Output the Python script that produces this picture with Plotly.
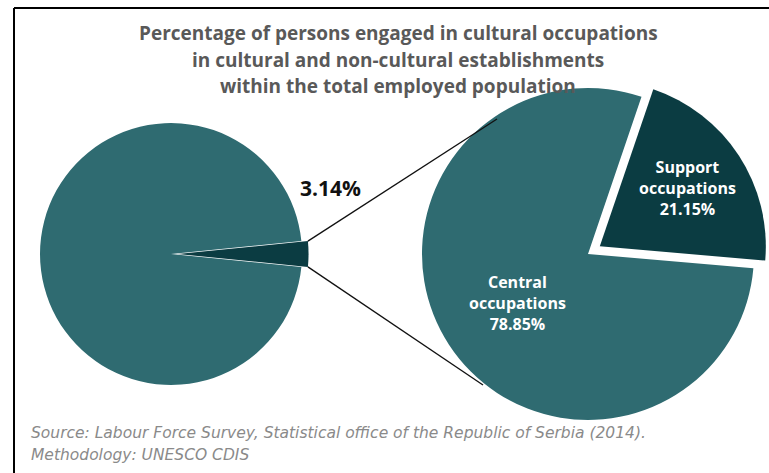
import math
import plotly.graph_objects as go

W, H = 769, 473

# Share of cultural occupations within total employment
total_labels = ["Cultural occupations", "Other occupations"]
total_values = [3.14, 96.86]

# Breakdown of cultural occupations
detail_labels = ["Support<br>occupations", "Central<br>occupations"]
detail_values = [21.15, 78.85]

TEAL = "#2f6b71"
DARK = "#0b3c42"

title_lines = [
    "Percentage of persons engaged in cultural occupations",
    "in cultural and non-cultural establishments",
    "within the total employed population",
]
source_lines = [
    "Source: Labour Force Survey, Statistical office of the Republic of Serbia (2014).",
    "Methodology: UNESCO CDIS",
]

# pie geometry in pixels (y measured from the top)
L_CX, L_CY, L_R, L_PULL = 171, 254, 131, 0.05
R_CX, R_CY, R_R, R_PULL = 588, 254, 166, 0.085


def px(x):
    return x / W


def py(y):
    return 1 - y / H


def domain(cx, cy, r, pull):
    # square box of side 2*r*(1+pull) fixes the radius; widen the other
    # direction only as far as the page allows, keeping the box centred
    half = r * (1 + pull)
    hx = min(half, cx, W - cx)
    hy = min(half + 10, cy, H - cy)
    if hx < half:
        hy = max(hy, half + 5)
        hy = min(hy, cy, H - cy)
    return dict(x=[px(cx - hx), px(cx + hx)],
                y=[py(cy + hy), py(cy - hy)])


left_rot = 90 - total_values[0] * 3.6 / 2
right_rot = 18.8

fig = go.Figure()
fig.add_trace(go.Pie(
    labels=total_labels, values=total_values, sort=False,
    direction="clockwise", rotation=left_rot,
    pull=[L_PULL, 0], marker=dict(colors=[DARK, TEAL], line=dict(width=0)),
    textinfo="none", hoverinfo="skip", showlegend=False,
    domain=domain(L_CX, L_CY, L_R, L_PULL),
))
fig.add_trace(go.Pie(
    labels=detail_labels, values=detail_values, sort=False,
    direction="clockwise", rotation=right_rot,
    pull=[R_PULL, 0], marker=dict(colors=[DARK, TEAL], line=dict(width=0)),
    textinfo="none", hoverinfo="skip", showlegend=False,
    domain=domain(R_CX, R_CY, R_R, R_PULL),
))

# connector lines from the small slice to the detail pie
half_ang = total_values[0] * 3.6 / 2
corners = []
for a in (90 - half_ang, 90 + half_ang):
    t = math.radians(a)
    corners.append((L_CX + L_PULL * L_R + L_R * math.sin(t), L_CY - L_R * math.cos(t)))
ends = [(497, 119), (483, 385)]

shapes = []
for (x0, y0), (x1, y1) in zip(corners, ends):
    shapes.append(dict(type="line", xref="paper", yref="paper",
                       x0=px(x0), y0=py(y0), x1=px(x1), y1=py(y1),
                       line=dict(color="#111111", width=1.3), layer="above"))
# frame lines along top and left
shapes.append(dict(type="line", xref="paper", yref="paper",
                   x0=px(14), y0=py(8), x1=1, y1=py(8),
                   line=dict(color="#000000", width=2)))
shapes.append(dict(type="line", xref="paper", yref="paper",
                   x0=px(14), y0=py(8), x1=px(14), y1=0,
                   line=dict(color="#000000", width=2)))

FONT = "Open Sans"
annotations = []
for line, ty in zip(title_lines, (33, 60, 86)):
    annotations.append(dict(
        text=line, x=px(398), y=py(ty), xref="paper", yref="paper",
        showarrow=False, xanchor="center", yanchor="middle",
        font=dict(family=FONT, size=19, color="#595959", weight="bold"),
    ))
annotations.append(dict(
    text=f"{total_values[0]:.2f}%", x=px(330), y=py(188), xref="paper", yref="paper",
    showarrow=False, xanchor="center", yanchor="middle",
    font=dict(family=FONT, size=21, color="#111111", weight="bold"),
))
label_pos = [(687, 188), (517, 303)]
for lab, val, (lx, ly) in zip(detail_labels, detail_values, label_pos):
    annotations.append(dict(
        text=f"{lab}<br>{val:.2f}%", x=px(lx), y=py(ly), xref="paper", yref="paper",
        showarrow=False, xanchor="center", yanchor="middle", align="center",
        font=dict(family=FONT, size=16, color="#ffffff", weight="bold"),
    ))
for line, sy in zip(source_lines, (433, 455)):
    annotations.append(dict(
        text=f"<i>{line}</i>", x=px(29), y=py(sy),
        xref="paper", yref="paper", showarrow=False, xanchor="left", yanchor="middle",
        font=dict(family="DejaVu Sans", size=15.5, color="#8a8a8a"),
    ))

fig.update_layout(
    width=W, height=H, margin=dict(l=0, r=0, t=0, b=0),
    paper_bgcolor="white", plot_bgcolor="white",
    shapes=shapes, annotations=annotations,
)

fig.write_html("out.html")
